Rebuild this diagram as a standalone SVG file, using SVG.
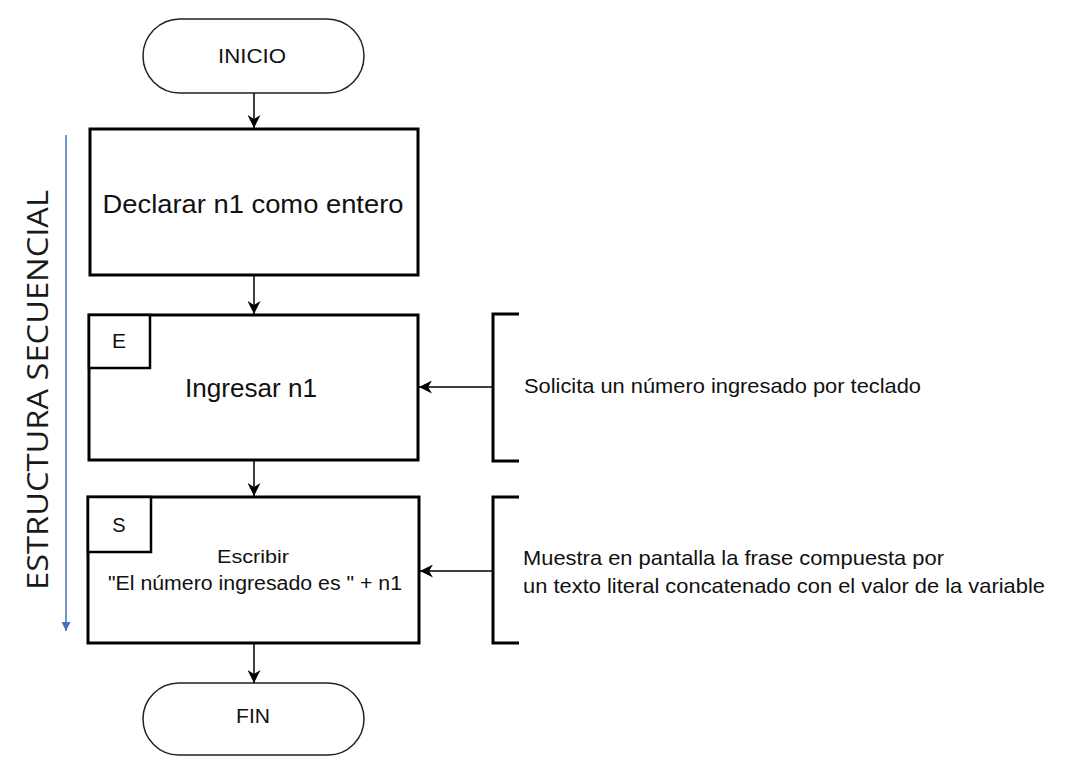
<svg xmlns="http://www.w3.org/2000/svg" width="1066" height="774" viewBox="0 0 1066 774">
<style>
.t{font-family:"Liberation Sans",Arial,sans-serif;fill:#111}
.box{fill:#fff;stroke:#000;stroke-width:3}
.small{fill:#fff;stroke:#000;stroke-width:2.5}
.term{fill:#fff;stroke:#222;stroke-width:1.5}
.ln{stroke:#000;stroke-width:1.5;fill:none}
.br{stroke:#000;stroke-width:3;fill:none}
</style>
<defs>
<marker id="ah" viewBox="0 0 10 10" refX="10" refY="5" markerWidth="14" markerHeight="13" markerUnits="userSpaceOnUse" orient="auto">
<path d="M0,0 L10,5 L0,10 L3,5 Z" fill="#000"/>
</marker>
<marker id="ahb" viewBox="0 0 10 10" refX="10" refY="5" markerWidth="9" markerHeight="9" markerUnits="userSpaceOnUse" orient="auto">
<path d="M0,0 L10,5 L0,10 Z" fill="#4472C4"/>
</marker>
</defs>
<rect width="1066" height="774" fill="#fff"/>
<g id="inicio">
<rect class="term" x="143" y="19" width="221" height="74" rx="37" ry="37"/>
<text class="t" x="252" y="63" font-size="21" text-anchor="middle" textLength="68" lengthAdjust="spacingAndGlyphs">INICIO</text>
</g>
<g id="declarar">
<rect class="box" x="90" y="129" width="328" height="146"/>
<text class="t" x="253" y="213" font-size="25.5" text-anchor="middle" textLength="301" lengthAdjust="spacingAndGlyphs">Declarar n1 como entero</text>
</g>
<g id="ingresar">
<rect class="box" x="89" y="315" width="329" height="145"/>
<rect class="small" x="89" y="315" width="61" height="53"/>
<text class="t" x="119" y="348" font-size="21" text-anchor="middle">E</text>
<text class="t" x="251" y="397" font-size="26" text-anchor="middle" textLength="132" lengthAdjust="spacingAndGlyphs">Ingresar n1</text>
</g>
<g id="escribir">
<rect class="box" x="88" y="497" width="331" height="146"/>
<rect class="small" x="88" y="497" width="63" height="55"/>
<text class="t" x="119" y="532" font-size="20" text-anchor="middle">S</text>
<text class="t" x="253" y="563" font-size="19" text-anchor="middle" textLength="72" lengthAdjust="spacingAndGlyphs">Escribir</text>
<text class="t" x="255" y="590" font-size="19.5" text-anchor="middle" textLength="294" lengthAdjust="spacingAndGlyphs">"El número ingresado es " + n1</text>
</g>
<g id="fin">
<rect class="term" x="143" y="683" width="221" height="72" rx="36" ry="36"/>
<text class="t" x="253" y="723" font-size="21" text-anchor="middle" textLength="34" lengthAdjust="spacingAndGlyphs">FIN</text>
</g>
<g id="nota1">
<path class="br" d="M519,314 H493 V461 H519"/>
<text class="t" x="524" y="393" font-size="21" textLength="397" lengthAdjust="spacingAndGlyphs">Solicita un número ingresado por teclado</text>
</g>
<g id="nota2">
<path class="br" d="M519,497 H493 V643 H519"/>
<text class="t" x="523" y="565" font-size="21" textLength="421" lengthAdjust="spacingAndGlyphs">Muestra en pantalla la frase compuesta por</text>
<text class="t" x="523" y="593" font-size="21" textLength="522" lengthAdjust="spacingAndGlyphs">un texto literal concatenado con el valor de la variable</text>
</g>
<g id="estructura">
<line x1="66" y1="135" x2="66" y2="631" stroke="#4472C4" stroke-width="1.5" marker-end="url(#ahb)"/>
<text x="0" y="0" transform="translate(48,390) rotate(-90)" font-family="'Open Sans','Liberation Sans',sans-serif" font-size="29" fill="#1a1a1a" text-anchor="middle" textLength="400" lengthAdjust="spacingAndGlyphs">ESTRUCTURA SECUENCIAL</text>
</g>
<g id="connectors">
<line class="ln" x1="254" y1="93" x2="254" y2="128" marker-end="url(#ah)"/>
<line class="ln" x1="254" y1="275" x2="254" y2="314" marker-end="url(#ah)"/>
<line class="ln" x1="254" y1="460" x2="254" y2="496" marker-end="url(#ah)"/>
<line class="ln" x1="254" y1="643" x2="254" y2="683" marker-end="url(#ah)"/>
<line class="ln" x1="493" y1="387" x2="419" y2="387" marker-end="url(#ah)"/>
<line class="ln" x1="493" y1="571" x2="420" y2="571" marker-end="url(#ah)"/>
</g>
</svg>
